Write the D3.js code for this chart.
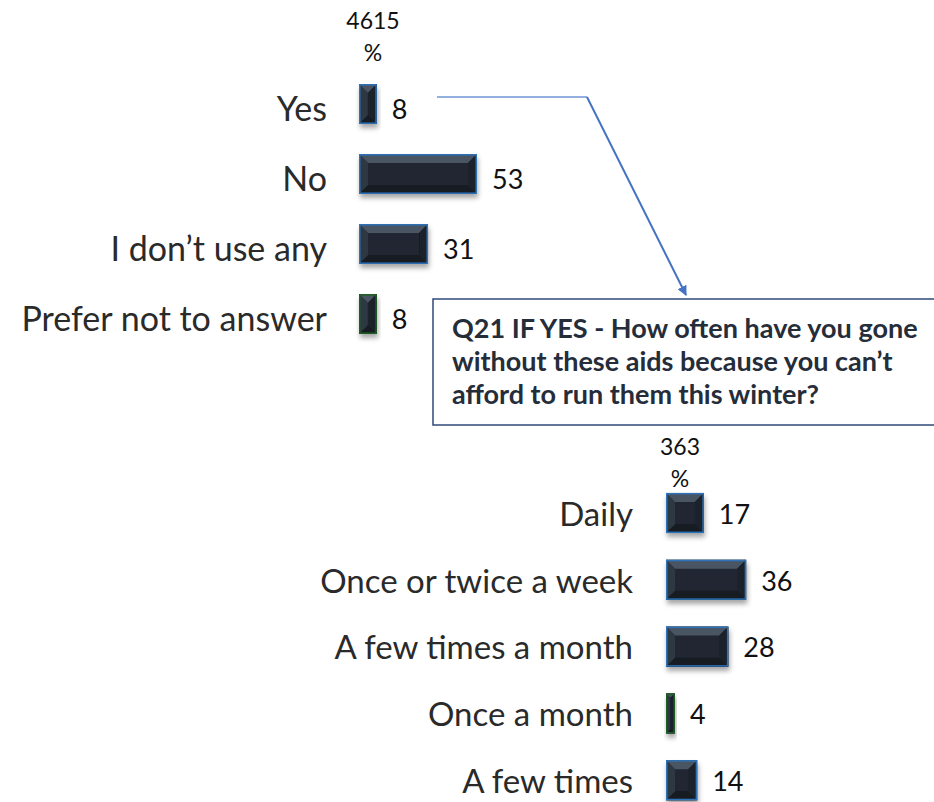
<!DOCTYPE html>
<html><head><meta charset="utf-8">
<script src="https://cdn.jsdelivr.net/npm/d3@7"></script>
<style>
body{margin:0;background:#fff;}
svg{display:block;font-family:Lato,"Open Sans",sans-serif;}
</style></head>
<body>
<svg id="c" width="934" height="802"></svg>
<script>
const topCats = ["Yes","No","I don\u2019t use any","Prefer not to answer"];
const topVals = [8,53,31,8];
const topGreen = [false,false,false,true];
const topBase = "4615";
const bottomCats = ["Daily","Once or twice a week","A few times a month","Once a month","A few times"];
const bottomVals = [17,36,28,4,14];
const bottomGreen = [false,false,false,true,false];
const bottomBase = "363";
const questionLines = ["Q21 IF YES - How often have you gone","without these aids because you can\u2019t","afford to run them this winter?"];

const svg = d3.select("#c");
const defs = svg.append("defs");
const f = defs.append("filter").attr("id","sh").attr("x","-20%").attr("y","-20%").attr("width","140%").attr("height","160%");
f.append("feDropShadow").attr("dx",1).attr("dy",4).attr("stdDeviation",2.5).attr("flood-color","#000").attr("flood-opacity",0.35);
const mk = defs.append("marker").attr("id","ah").attr("viewBox","0 0 10 10").attr("refX",9).attr("refY",5)
  .attr("markerWidth",5).attr("markerHeight",5).attr("orient","auto");
mk.append("path").attr("d","M0,0L10,5L0,10z").attr("fill","#4472C4");

const x = d3.scaleLinear().domain([0,53]).range([0,118]);

function drawChart(cats, vals, green, base, x0, yRange, padIn, padOut, labelRight, baseY, textOff, labelSize){
  const y = d3.scaleBand().domain(cats).range(yRange).paddingInner(padIn).paddingOuter(padOut);
  const g = svg.append("g");
  g.append("text").attr("x",x0+14).attr("y",baseY).attr("text-anchor","middle")
    .attr("font-size",23).attr("fill","#111").text(base);
  g.append("text").attr("x",x0+14).attr("y",baseY+32).attr("text-anchor","middle")
    .attr("font-size",23).attr("fill","#111").text("%");
  const rows = g.selectAll("g.row").data(cats).join("g").attr("class","row")
    .attr("transform",d=>`translate(${x0},${y(d)})`);
  rows.each(function(d,i){
    const r = d3.select(this);
    const w = x(vals[i]), h = y.bandwidth();
    const b = Math.min(9, w/2);
    const bar = r.append("g").attr("filter","url(#sh)");
    bar.append("rect").attr("width",w).attr("height",h).attr("fill","#212833");
    bar.append("path").attr("d",`M0,0L${w},0L${w-b},${b}L${b},${b}Z`).attr("fill","#4a5463");
    bar.append("path").attr("d",`M0,${h}L${w},${h}L${w-b},${h-b}L${b},${h-b}Z`).attr("fill","#161b23");
    bar.append("path").attr("d",`M0,0L${b},${b}L${b},${h-b}L0,${h}Z`).attr("fill","#2f3743");
    bar.append("path").attr("d",`M${w},0L${w-b},${b}L${w-b},${h-b}L${w},${h}Z`).attr("fill","#1a2029");
    bar.append("rect").attr("x",0.75).attr("y",0.75).attr("width",Math.max(0,w-1.5)).attr("height",h-1.5)
      .attr("fill","none").attr("stroke",green[i]?"#1f5f22":"#2d72b8").attr("stroke-width",1.5);
    r.append("text").attr("x",w+15).attr("y",h/2+textOff).attr("dy","0.36em")
      .attr("font-size",27).attr("fill","#111").text(vals[i]);
    r.append("text").attr("x",labelRight - x0).attr("y",h/2+textOff).attr("dy","0.36em").attr("text-anchor","end")
      .attr("font-size",labelSize).attr("fill","#2a2a2a").text(d);
  });
  return y;
}

drawChart(topCats, topVals, topGreen, topBase, 359, [69,349], 0.43, 0.215, 327, 29, 5, 34);
drawChart(bottomCats, bottomVals, bottomGreen, bottomBase, 666, [479.6,813.6], 0.4, 0.2, 633, 455, 1, 33);

// connector arrow
svg.append("path").attr("d","M437,97L587,97").attr("stroke","#6f96d6").attr("stroke-width",1.5).attr("fill","none");
svg.append("path").attr("d","M587,97L686,295").attr("stroke","#4472C4").attr("stroke-width",2).attr("fill","none")
  .attr("marker-end","url(#ah)");

// question box
svg.append("rect").attr("x",433).attr("y",299).attr("width",510).attr("height",126)
  .attr("fill","#fff").attr("stroke","#2f4a78").attr("stroke-width",1.5);
svg.append("g").selectAll("text").data(questionLines).join("text")
  .attr("x",452).attr("y",(d,i)=>338+i*33).attr("font-size",27).attr("font-weight","bold")
  .attr("fill","#262d3a").text(d=>d);
</script>
</body></html>
